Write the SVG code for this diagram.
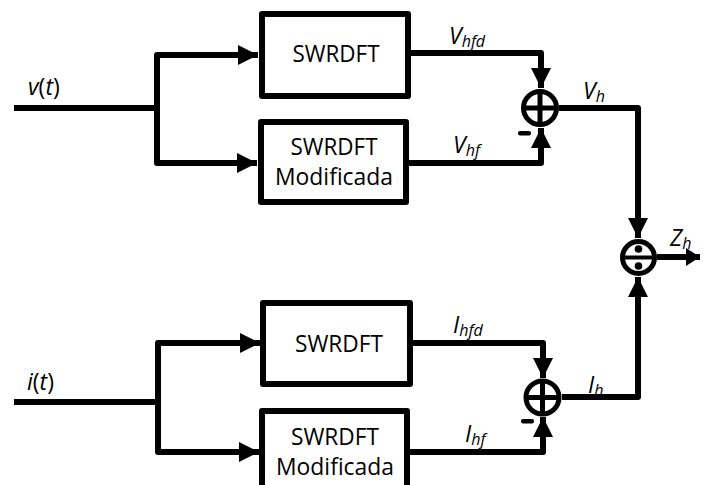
<svg xmlns="http://www.w3.org/2000/svg" width="709" height="485" viewBox="0 0 709 485">
<defs>
<marker id="arr" viewBox="0 0 20 20" refX="20" refY="10" markerWidth="20" markerHeight="20" markerUnits="userSpaceOnUse" orient="auto">
<path d="M0,0 L20,10 L0,20 Z" fill="#000"/>
</marker>
<marker id="arrs" viewBox="0 0 14 18" refX="14" refY="9" markerWidth="14" markerHeight="18" markerUnits="userSpaceOnUse" orient="auto">
<path d="M0,0 L14,9 L0,18 Z" fill="#000"/>
</marker>
</defs>
<style>
.box{fill:#fff;stroke:#000;stroke-width:6;stroke-linejoin:round}
.ln{fill:none;stroke:#000;stroke-width:6;stroke-linejoin:round}
.ca{marker-end:url(#arr)}
.circ{fill:#fff;stroke:#000;stroke-width:5}
.bt{font-family:"Open Sans","Liberation Sans",sans-serif;font-size:23.5px;fill:#000;text-anchor:middle}
.lb{font-family:"Open Sans","Liberation Sans",sans-serif;font-size:23px;font-style:italic;fill:#000}
.sub{font-size:16px}
.up{font-style:normal}
</style>
<g id="connectors">
<path class="ln" d="M14,108 H157"/>
<path class="ln ca" d="M157,108 V55 H258"/>
<path class="ln ca" d="M157,108 V163 H257"/>
<path class="ln ca" d="M408,53 H541 V88"/>
<path class="ln ca" d="M405,163 H541 V128"/>
<path class="ln ca" d="M559,108 H638 V238"/>
<path class="ln" d="M14,402 H158"/>
<path class="ln ca" d="M158,402 V343 H260"/>
<path class="ln ca" d="M158,402 V452 H259"/>
<path class="ln ca" d="M410,343 H543 V378"/>
<path class="ln ca" d="M406,452 H543 V417"/>
<path class="ln ca" d="M562,397 H638 V277"/>
<path class="ln" d="M657,257 H700" style="marker-end:url(#arrs)"/>
<rect x="518" y="131" width="13" height="4.5" rx="2" fill="#000"/>
<rect x="521" y="419" width="13" height="4.5" rx="2" fill="#000"/>
</g>
<g id="swrdft-v">
<rect class="box" x="262" y="14" width="146" height="82"/>
<text class="bt" x="336" y="62" textLength="87" lengthAdjust="spacingAndGlyphs">SWRDFT</text>
</g>
<g id="swrdft-mod-v">
<rect class="box" x="261" y="122" width="145" height="80"/>
<text class="bt" x="334" y="155" textLength="87" lengthAdjust="spacingAndGlyphs">SWRDFT</text>
<text class="bt" x="334" y="185" textLength="118" lengthAdjust="spacingAndGlyphs">Modificada</text>
</g>
<g id="swrdft-i">
<rect class="box" x="263" y="303" width="147" height="81"/>
<text class="bt" x="339" y="352" textLength="88" lengthAdjust="spacingAndGlyphs">SWRDFT</text>
</g>
<g id="swrdft-mod-i">
<rect class="box" x="262" y="411" width="145" height="80"/>
<text class="bt" x="335" y="445" textLength="88" lengthAdjust="spacingAndGlyphs">SWRDFT</text>
<text class="bt" x="335" y="475" textLength="118" lengthAdjust="spacingAndGlyphs">Modificada</text>
</g>
<g id="sum-v">
<circle class="circ" cx="540" cy="108" r="16.5"/>
<path d="M540,93 V123 M525,108 H555" stroke="#000" stroke-width="5"/>
</g>
<g id="sum-i">
<circle class="circ" cx="542.5" cy="397.5" r="16.5"/>
<path d="M542.5,382 V413 M527,397.5 H558" stroke="#000" stroke-width="5"/>
</g>
<g id="div">
<circle class="circ" cx="638.5" cy="257.5" r="16"/>
<path d="M623,257.5 H654" stroke="#000" stroke-width="4"/>
<circle cx="638.5" cy="249" r="3.8" fill="#000"/>
<circle cx="638.5" cy="266" r="3.8" fill="#000"/>
</g>
<g id="labels">
<text class="lb" x="28" y="95">v<tspan class="up">(</tspan>t<tspan class="up">)</tspan></text>
<text class="lb" x="27" y="390">i<tspan class="up">(</tspan>t<tspan class="up">)</tspan></text>
<text class="lb" x="449" y="44">V<tspan class="sub" dy="3">hfd</tspan></text>
<text class="lb" x="453" y="153">V<tspan class="sub" dy="3">hf</tspan></text>
<text class="lb" x="583" y="99">V<tspan class="sub" dy="3">h</tspan></text>
<text class="lb" x="453" y="333">I<tspan class="sub" dy="3">hfd</tspan></text>
<text class="lb" x="465" y="442">I<tspan class="sub" dy="3">hf</tspan></text>
<text class="lb" x="588" y="393">I<tspan class="sub" dy="3">h</tspan></text>
<text class="lb" x="670" y="246">Z<tspan class="sub" dy="3">h</tspan></text>
</g>
</svg>
